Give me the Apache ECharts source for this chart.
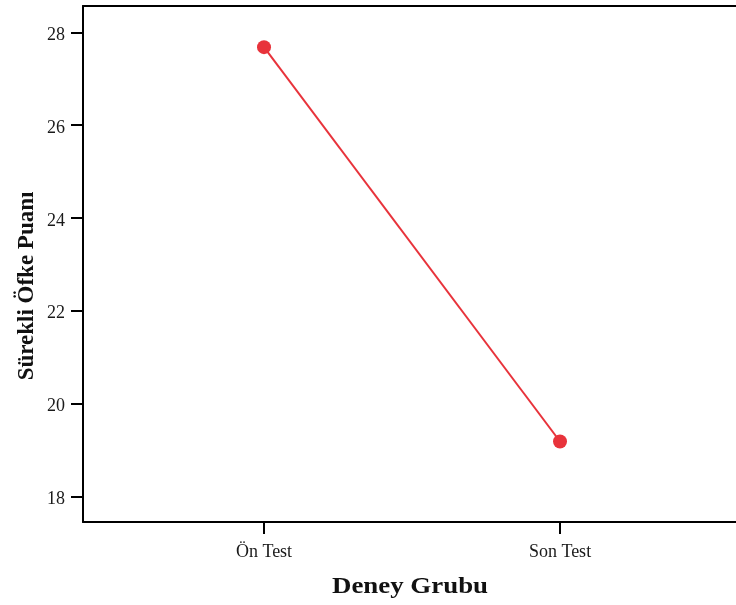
<!DOCTYPE html>
<html>
<head>
<meta charset="utf-8">
<script src="https://cdn.jsdelivr.net/npm/echarts@6/dist/echarts.min.js"></script>
<style>
  html, body { margin: 0; padding: 0; background: #fff; }
  #chart { width: 736px; height: 605px; }
</style>
</head>
<body>
<div id="chart"></div>
<script>
// Group means of the trait-anger score
const categories = ['Ön Test', 'Son Test'];
const means = [27.68, 19.18];
const yTicks = [18, 20, 22, 24, 26, 28];
const xTitle = 'Deney Grubu';
const yTitle = 'Sürekli Öfke Puanı';

const FONT = '"Liberation Serif", "Times New Roman", serif';
const positions = categories.map((_, i) => i + 1);
const points = positions.map((p, i) => [p, means[i]]);

const X_MIN = 0.3885;
const X_MAX = X_MIN + 653 / 296;

const chart = echarts.init(document.getElementById('chart'), null, { renderer: 'canvas' });

chart.setOption({
  backgroundColor: '#ffffff',
  animation: false,
  grid: { left: 83, top: 6, right: 0, bottom: 83, show: false },
  xAxis: [
    {
      type: 'value',
      position: 'bottom',
      min: X_MIN,
      max: X_MAX,
      axisLine: { show: true, lineStyle: { color: '#000', width: 2 } },
      axisTick: { show: true, customValues: positions, length: 12, inside: false,
                  lineStyle: { color: '#000', width: 2 } },
      axisLabel: { customValues: positions, margin: 21, color: '#1a1a1a',
                   fontFamily: FONT, fontSize: 18,
                   formatter: v => categories[Math.round(v) - 1] },
      splitLine: { show: false }
    },
    {
      // frame line along the top of the plot
      type: 'value',
      position: 'top',
      min: X_MIN,
      max: X_MAX,
      axisLine: { show: true, onZero: false, lineStyle: { color: '#000', width: 2 } },
      axisTick: { show: false },
      axisLabel: { show: false },
      splitLine: { show: false }
    }
  ],
  yAxis: {
    type: 'value',
    min: 17.445,
    max: 28.567,
    axisLine: { show: true, lineStyle: { color: '#000', width: 2 } },
    axisTick: { show: true, customValues: yTicks, length: 12,
                lineStyle: { color: '#000', width: 2 } },
    axisLabel: { customValues: yTicks, margin: 18, color: '#1a1a1a',
                 fontFamily: FONT, fontSize: 18,
                 verticalAlign: 'top', lineHeight: 6 },
    splitLine: { show: false }
  },
  graphic: [
    {
      type: 'text', x: 410, y: 587, scaleX: 1.12,
      style: { text: xTitle, font: 'bold 24px ' + FONT, fill: '#111',
               align: 'center', verticalAlign: 'middle' }
    },
    {
      type: 'text', x: 27, y: 286, rotation: Math.PI / 2,
      style: { text: yTitle, font: 'bold 23px ' + FONT, fill: '#111',
               align: 'center', verticalAlign: 'middle' }
    }
  ],
  series: [{
    type: 'line',
    xAxisIndex: 0,
    data: points,
    symbol: 'circle',
    symbolSize: 14,
    lineStyle: { color: '#e8333b', width: 2 },
    itemStyle: { color: '#e8333b' }
  }]
});
</script>
</body>
</html>
